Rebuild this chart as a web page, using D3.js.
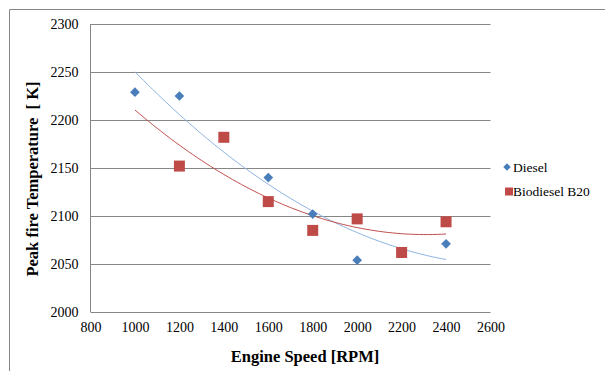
<!DOCTYPE html>
<html>
<head>
<meta charset="utf-8">
<script src="https://cdn.jsdelivr.net/npm/d3@7"></script>
<style>
  body { margin: 0; background: #fff; }
  svg text { font-family: "Liberation Serif", "Times New Roman", serif !important; fill: #000; }
</style>
</head>
<body>
<div id="container"></div>
<script>
// engine speeds (rpm) and peak fire temperatures (K)
var dieselRpm = [1000, 1200, 1400, 1600, 1800, 2000, 2200, 2400];
var dieselTemp = [2229, 2225, 2182, 2140, 2102, 2054, 2061, 2071];
var b20Rpm = [1200, 1400, 1600, 1800, 2000, 2200, 2400];
var b20Temp = [2152, 2182, 2115, 2085, 2097, 2062, 2094];
var xTicks = [800, 1000, 1200, 1400, 1600, 1800, 2000, 2200, 2400, 2600];
var yTicks = [2000, 2050, 2100, 2150, 2200, 2250, 2300];
var trendRange = [1000, 2400];

var width = 605, height = 371;
var margin = { left: 90.5, right: 114.5, top: 24, bottom: 59 };
var w = width - margin.left - margin.right;
var h = height - margin.top - margin.bottom;

var svg = d3.select('#container').append('svg')
    .attr('width', width)
    .attr('height', height);

// outer chart frame (only left and top edges are visible in the picture)
svg.append('path')
    .attr('d', 'M9.5,371V9.5H605')
    .attr('fill', 'none')
    .attr('stroke', '#868686');

var g = svg.append('g')
    .attr('transform', 'translate(' + margin.left + ',' + margin.top + ')');

var x = d3.scaleLinear().domain([800, 2600]).range([0, w]);
var y = d3.scaleLinear().domain([2000, 2300]).range([h, 0]);

// horizontal gridlines
g.selectAll('.grid')
    .data(yTicks)
    .enter()
    .append('line')
    .attr('x1', 0).attr('x2', w)
    .attr('y1', d => Math.round(y(d)) + 0.5)
    .attr('y2', d => Math.round(y(d)) + 0.5)
    .attr('stroke', '#868686');

g.append('line')
    .attr('x1', 0).attr('x2', 0)
    .attr('y1', 0).attr('y2', h)
    .attr('stroke', '#868686');

// axes, ticks hidden, labels only
var yAxis = g.append('g')
    .call(d3.axisLeft(y).tickValues(yTicks).tickSize(0).tickPadding(12).tickFormat(d3.format('d')));
yAxis.select('.domain').remove();
yAxis.attr('font-family', null);
yAxis.selectAll('text').style('font-size', '14px');

var xAxis = g.append('g')
    .attr('transform', 'translate(0,' + h + ')')
    .call(d3.axisBottom(x).tickValues(xTicks).tickSize(0).tickPadding(10).tickFormat(d3.format('d')));
xAxis.select('.domain').remove();
xAxis.attr('font-family', null);
xAxis.selectAll('text').style('font-size', '14px');

// quadratic least squares fit, as the excel trendline does
function polyFit(xs, ys) {
    var x0 = d3.mean(xs);
    var u = xs.map(v => (v - x0) / 100);
    var s = [0, 0, 0, 0, 0], t = [0, 0, 0];
    u.forEach((v, i) => {
        for (var k = 0; k < 5; k++) s[k] += Math.pow(v, k);
        for (var k = 0; k < 3; k++) t[k] += Math.pow(v, k) * ys[i];
    });
    var m = [[s[0], s[1], s[2], t[0]], [s[1], s[2], s[3], t[1]], [s[2], s[3], s[4], t[2]]];
    for (var i = 0; i < 3; i++) {
        for (var j = i + 1; j < 3; j++) {
            var f = m[j][i] / m[i][i];
            for (var k = i; k < 4; k++) m[j][k] -= f * m[i][k];
        }
    }
    var c = [0, 0, 0];
    for (var i = 2; i >= 0; i--) {
        var sum = m[i][3];
        for (var k = i + 1; k < 3; k++) sum -= m[i][k] * c[k];
        c[i] = sum / m[i][i];
    }
    return function (v) { var q = (v - x0) / 100; return c[0] + c[1] * q + c[2] * q * q; };
}

var line = d3.line().x(d => x(d[0])).y(d => y(d[1]));
function trend(xs, ys, color) {
    var f = polyFit(xs, ys);
    var pts = d3.range(trendRange[0], trendRange[1] + 1, 20).map(v => [v, f(v)]);
    g.append('path')
        .attr('d', line(pts))
        .attr('fill', 'none')
        .attr('stroke', color)
        .attr('stroke-width', 1);
}
trend(dieselRpm, dieselTemp, '#8eb4e3');
trend(b20Rpm, b20Temp, '#c0504d');

var diamond = d3.symbol().type(d3.symbolDiamond2).size(60);

g.selectAll('.diesel')
    .data(dieselRpm)
    .enter()
    .append('path')
    .attr('d', diamond)
    .attr('transform', (d, i) => 'translate(' + x(d) + ',' + y(dieselTemp[i]) + ')')
    .attr('fill', '#4a7ebb');

g.selectAll('.b20')
    .data(b20Rpm)
    .enter()
    .append('rect')
    .attr('x', d => x(d) - 5.5)
    .attr('y', (d, i) => y(b20Temp[i]) - 5.5)
    .attr('width', 11)
    .attr('height', 11)
    .attr('fill', '#be4b48');

// legend
var legend = svg.append('g');
legend.append('path')
    .attr('d', d3.symbol().type(d3.symbolDiamond2).size(36))
    .attr('transform', 'translate(507,167)')
    .attr('fill', '#4a7ebb');
legend.append('text')
    .attr('x', 513).attr('y', 171.5)
    .style('font-size', '13.5px')
    .text('Diesel');
legend.append('rect')
    .attr('x', 505).attr('y', 187.5)
    .attr('width', 8).attr('height', 8)
    .attr('fill', '#be4b48');
legend.append('text')
    .attr('x', 513).attr('y', 196)
    .style('font-size', '13.5px')
    .text('Biodiesel B20');

// axis titles
svg.append('text')
    .attr('x', 305).attr('y', 362)
    .attr('text-anchor', 'middle')
    .style('font-size', '16.5px')
    .style('font-weight', 'bold')
    .text('Engine Speed [RPM]');

svg.append('text')
    .attr('transform', 'translate(38,179) rotate(-90)')
    .attr('text-anchor', 'middle')
    .style('font-size', '16.5px')
    .style('font-weight', 'bold')
    .style('white-space', 'pre')
    .text('Peak fire Temperature  [ K]');
</script>
</body>
</html>
